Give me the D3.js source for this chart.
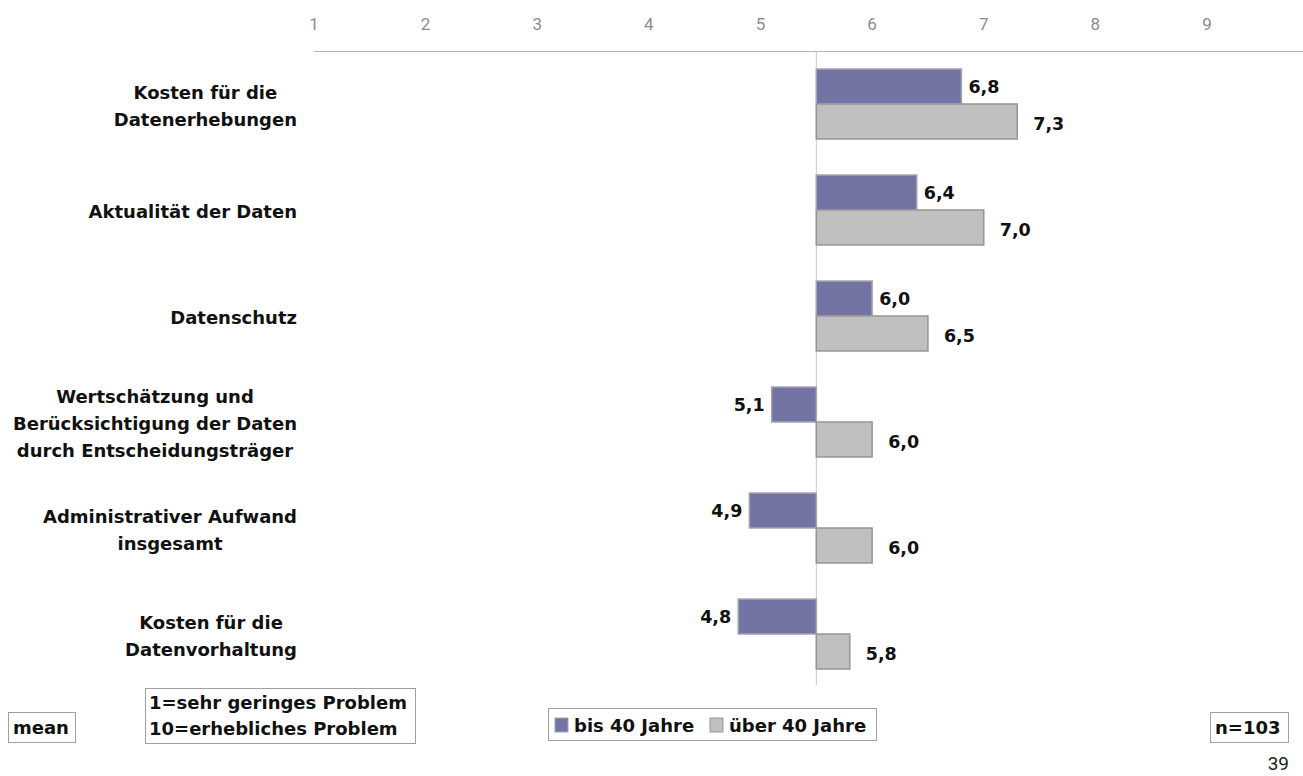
<!DOCTYPE html>
<html>
<head>
<meta charset="utf-8">
<script src="https://cdn.jsdelivr.net/npm/d3@7"></script>
<style>
  body { margin: 0; background: #fff; }
  svg text { font-family: "DejaVu Sans", Verdana, sans-serif; }
</style>
</head>
<body>
<svg id="chart" width="1303" height="776"></svg>
<script>
// data
var categories = [
  ["Kosten für die", "Datenerhebungen"],
  ["Aktualität der Daten"],
  ["Datenschutz"],
  ["Wertschätzung und", "Berücksichtigung der Daten", "durch Entscheidungsträger"],
  ["Administrativer Aufwand", "insgesamt"],
  ["Kosten für die", "Datenvorhaltung"]
];
var under40 = [6.8, 6.4, 6.0, 5.1, 4.9, 4.8];
var over40 = [7.3, 7.0, 6.5, 6.0, 6.0, 5.8];
var seriesNames = ["bis 40 Jahre", "über 40 Jahre"];
var tickValues = [1, 2, 3, 4, 5, 6, 7, 8, 9];
var baseValue = 5.5;

var colors = ["#7474a4", "#c0c0c0"];
var strokes = ["#a4a4b8", "#969696"];

var svg = d3.select("#chart");

var x = d3.scaleLinear().domain([1, 9]).range([314, 1207]);

var y = d3.scaleBand()
    .domain(d3.range(categories.length))
    .range([69, 669])
    .paddingInner(0.34)
    .paddingOuter(0);

// top axis labels + line
svg.append("line")
    .attr("x1", 314).attr("x2", 1303)
    .attr("y1", 51.5).attr("y2", 51.5)
    .style("stroke", "#b4b4b4").style("stroke-width", 1);

svg.selectAll(".tick")
    .data(tickValues)
    .enter().append("text")
    .attr("x", function(d) { return x(d); })
    .attr("y", 30)
    .style("text-anchor", "middle")
    .style("font-family", "Roboto, sans-serif")
    .style("font-size", "17px")
    .style("fill", "#8c8c8c")
    .text(function(d) { return d; });

// baseline
svg.append("line")
    .attr("x1", x(baseValue)).attr("x2", x(baseValue))
    .attr("y1", 51).attr("y2", 685)
    .style("stroke", "#c8c8c8").style("stroke-width", 1);

var barH = y.bandwidth() / 2;
var series = [under40, over40];

series.forEach(function(vals, s) {
  svg.selectAll(".bar" + s)
    .data(vals)
    .enter().append("rect")
    .attr("x", function(d) { return x(Math.min(d, baseValue)); })
    .attr("y", function(d, i) { return y(i) + s * barH; })
    .attr("width", function(d) { return Math.abs(x(d) - x(baseValue)); })
    .attr("height", barH)
    .style("fill", colors[s])
    .style("stroke", strokes[s])
    .style("stroke-width", 1.5);

  svg.selectAll(".val" + s)
    .data(vals)
    .enter().append("text")
    .attr("x", function(d) {
      var gap = s == 0 ? 7 : 16;
      return d >= baseValue ? x(d) + gap : x(d) - gap;
    })
    .attr("y", function(d, i) { return y(i) + s * barH + barH / 2 + (s == 0 ? 0 : 2); })
    .attr("dy", "0.35em")
    .style("text-anchor", function(d) { return d >= baseValue ? "start" : "end"; })
    .style("font-size", "17.5px")
    .style("font-weight", "bold")
    .style("fill", "#111")
    .text(function(d) { return d3.format(".1f")(d).replace(".", ","); });
});

// category labels: lines centred in a block whose right edge is at 297
categories.forEach(function(lines, i) {
  var cy = y(i) + barH + 2;
  var lh = 27;
  var t = svg.append("text")
    .attr("y", cy - (lines.length - 1) * lh / 2)
    .style("text-anchor", "middle")
    .style("font-size", "18px")
    .style("font-weight", "bold")
    .style("fill", "#111");
  var spans = lines.map(function(l, j) {
    return t.append("tspan").attr("dy", j == 0 ? "0.35em" : lh).text(l);
  });
  var maxW = d3.max(spans, function(sp) { return sp.node().getComputedTextLength(); });
  spans.forEach(function(sp) { sp.attr("x", 297 - maxW / 2); });
});

// boxes at bottom
function box(x0, y0, w, h) {
  svg.append("rect")
    .attr("x", x0).attr("y", y0).attr("width", w).attr("height", h)
    .style("fill", "#fff").style("stroke", "#a0a0a0").style("stroke-width", 1);
}
function boldText(tx, ty, s) {
  return svg.append("text").attr("x", tx).attr("y", ty)
    .style("font-size", "18px").style("font-weight", "bold").style("fill", "#111").text(s);
}

box(8.5, 712.5, 67, 30);
boldText(13, 734, "mean");

box(145.5, 688.5, 270, 55);
boldText(149, 709, "1=sehr geringes Problem");
boldText(149, 735, "10=erhebliches Problem");

// legend
box(548.5, 708.5, 328, 32);
var legX = [555, 710];
seriesNames.forEach(function(n, s) {
  svg.append("rect")
    .attr("x", legX[s]).attr("y", 718).attr("width", 13).attr("height", 14)
    .style("fill", colors[s]).style("stroke", strokes[s]);
  boldText(legX[s] + 19, 732, n);
});

box(1210.5, 712.5, 78, 30);
boldText(1215, 734, "n=103");

svg.append("text").attr("x", 1289).attr("y", 770)
  .style("text-anchor", "end")
  .style("font-family", "Roboto, sans-serif")
  .style("font-size", "19px").style("fill", "#222").text("39");
</script>
</body>
</html>
